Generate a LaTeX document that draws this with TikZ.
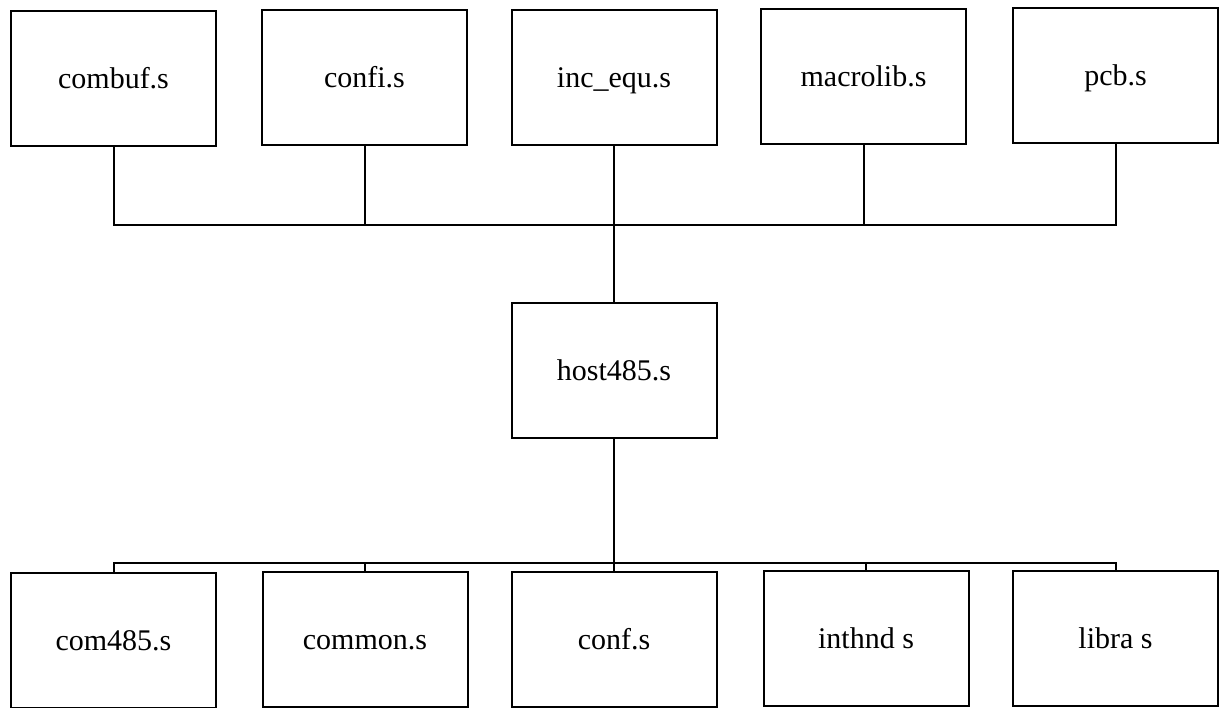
\documentclass[tikz,border=0pt]{standalone}
\usepackage{fontspec}
\setmainfont{Liberation Serif}
\begin{document}
\begin{tikzpicture}[x=1pt,y=-1pt,
  filebox/.style={draw,line width=2pt,minimum width=205pt,minimum height=135pt,
    inner sep=0pt,text height=20pt,text depth=0pt,
    font=\fontsize{30}{33}\selectfont},
  link/.style={line width=2pt}]
\useasboundingbox (0,0) rectangle (1219,708);
% included source files
\node[filebox] (combuf)   at (113.5,78.5) {combuf.s};
\node[filebox] (confi)    at (364.5,78)   {confi.s};
\node[filebox] (incequ)   at (614,77.5)   {inc\_equ.s};
\node[filebox] (macrolib) at (863.5,77)   {macrolib.s};
\node[filebox] (pcb)      at (1115.5,75.5){pcb.s};
% main module
\node[filebox] (host)     at (614,371)    {host485.s};
% linked modules
\node[filebox] (com485)   at (113.5,640)  {com485.s};
\node[filebox] (common)   at (365,639)    {common.s};
\node[filebox] (conf)     at (614,639)    {conf.s};
\node[filebox] (inthnd)   at (866,638.5)  {inthnd s};
\node[filebox] (libra)    at (1115.5,638) {libra s};
% bus lines
\coordinate (topbus) at (0,225);
\coordinate (botbus) at (0,563);
\draw[link] (combuf.south) -- (combuf.south |- topbus) -- (pcb.south |- topbus) -- (pcb.south);
\draw[link] (confi.south) -- (confi.south |- topbus);
\draw[link] (macrolib.south) -- (macrolib.south |- topbus);
\draw[link] (incequ.south) -- (host.north);
\draw[link] (com485.north) -- (com485.north |- botbus) -- (libra.north |- botbus) -- (libra.north);
\draw[link] (common.north) -- (common.north |- botbus);
\draw[link] (inthnd.north) -- (inthnd.north |- botbus);
\draw[link] (host.south) -- (conf.north);
\end{tikzpicture}
\end{document}
